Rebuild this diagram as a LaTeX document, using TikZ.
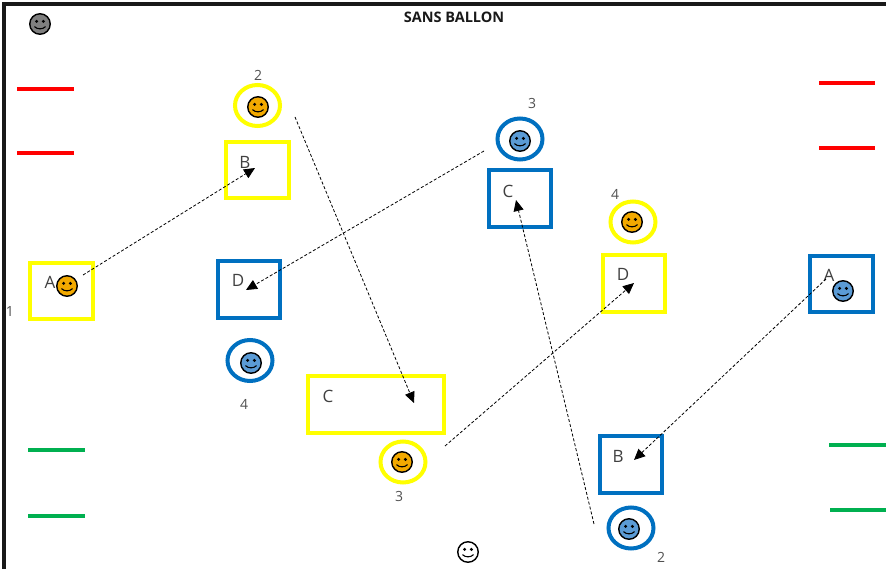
\documentclass[tikz,border=0pt]{standalone}
\usepackage{fontspec}
\setmainfont{Open Sans}
\usetikzlibrary{arrows.meta, shapes.geometric}
\definecolor{ringyellow}{HTML}{FFFF00}
\definecolor{ringblue}{HTML}{0070C0}
\definecolor{faceorange}{HTML}{F2A900}
\definecolor{faceblue}{HTML}{5B9BD5}
\definecolor{facegrey}{HTML}{7F7F7F}
\definecolor{barred}{HTML}{FF0000}
\definecolor{bargreen}{HTML}{00B050}
\definecolor{labelgrey}{HTML}{505050}

\begin{document}
\begin{tikzpicture}[
    x=1pt, y=-1pt,
    box/.style={draw, line width=4pt, minimum width=#1, minimum height=56.5pt,
        inner sep=0pt},
    box/.default=62.5pt,
    ring/.style={ellipse, draw, line width=4pt, minimum width=45pt,
        minimum height=41pt, inner sep=0pt},
    smiley/.style={circle, draw=black, line width=1.4pt, fill=#1,
        minimum size=20.5pt, inner sep=0pt,
        path picture={
            \fill[black] (path picture bounding box.center) ++(-3.4pt,2.6pt) circle (1.7pt);
            \fill[black] (path picture bounding box.center) ++(3.4pt,2.6pt) circle (1.7pt);
            \draw[black, line width=1.1pt] (path picture bounding box.center) ++(-5.5pt,-2.6pt)
                .. controls ++(2.5pt,-3pt) and ++(-2.5pt,-3pt) .. ++(11pt,0pt);
        }},
    letter/.style={font=\fontsize{17}{17}\selectfont, text=black!75, inner sep=0pt},
    number/.style={font=\fontsize{14}{14}\selectfont, text=labelgrey, inner sep=0pt},
    bar/.style={line width=3.5pt},
    link/.style={line width=0.8pt, dash pattern=on 3pt off 2pt,
        -{Triangle[length=11pt, width=10pt]}}
]
    \useasboundingbox (0,0) rectangle (886,569);

    % frame
    \coordinate (frametop) at (886,4);
    \coordinate (framecorner) at (3.5,4);
    \coordinate (framebottom) at (3.5,569);
    \draw[line width=4pt, black!90] (frametop) -- (framecorner) -- (framebottom);
    \node[font=\fontsize{14.5}{14.5}\selectfont\bfseries, text=black!90, inner sep=0pt] (title) at (454,17) {SANS BALLON};

    % bars
    \coordinate (rl1) at (17,89);    \coordinate (rl2) at (74,89);
    \coordinate (rl3) at (17,153);   \coordinate (rl4) at (74,153);
    \coordinate (rr1) at (819,83);   \coordinate (rr2) at (875,83);
    \coordinate (rr3) at (819,148);  \coordinate (rr4) at (875,148);
    \coordinate (gl1) at (28,450);   \coordinate (gl2) at (85,450);
    \coordinate (gl3) at (28,516);   \coordinate (gl4) at (85,516);
    \coordinate (gr1) at (829,445);  \coordinate (gr2) at (886,445);
    \coordinate (gr3) at (830,510);  \coordinate (gr4) at (886,510);
    \draw[bar, barred] (rl1) -- (rl2);
    \draw[bar, barred] (rl3) -- (rl4);
    \draw[bar, barred] (rr1) -- (rr2);
    \draw[bar, barred] (rr3) -- (rr4);
    \draw[bar, bargreen] (gl1) -- (gl2);
    \draw[bar, bargreen] (gl3) -- (gl4);
    \draw[bar, bargreen] (gr1) -- (gr2);
    \draw[bar, bargreen] (gr3) -- (gr4);

    % boxes
    \node[box, draw=ringyellow] (ya) at (61.5,291) {};
    \node[box, draw=ringyellow] (yb) at (257.5,170) {};
    \node[box=136pt, draw=ringyellow] (yc) at (376,404.5) {};
    \node[box, draw=ringyellow] (yd) at (634,283.5) {};
    \node[box, draw=ringblue] (ba) at (841.5,284) {};
    \node[box, draw=ringblue] (bb) at (631,464.5) {};
    \node[box, draw=ringblue] (bc) at (520,198.5) {};
    \node[box, draw=ringblue] (bd) at (249,289.5) {};

    % rings
    \node[ring, draw=ringyellow] (yb ring) at (257.5,105.5) {};
    \node[ring, draw=ringyellow] (yc ring) at (403,462) {};
    \node[ring, draw=ringyellow] (yd ring) at (633,222) {};
    \node[ring, draw=ringblue] (bb ring) at (631,528) {};
    \node[ring, draw=ringblue] (bc ring) at (520,139) {};
    \node[ring, draw=ringblue] (bd ring) at (250,360.5) {};

    % smileys
    \node[smiley=facegrey] (coach) at (40,24) {};
    \node[smiley=white] (ball) at (468,552) {};
    \node[smiley=faceorange] (ya face) at (67,286) {};
    \node[smiley=faceorange] (yb face) at (258,107) {};
    \node[smiley=faceorange] (yc face) at (402,462) {};
    \node[smiley=faceorange] (yd face) at (632,222) {};
    \node[smiley=faceblue] (ba face) at (843,291) {};
    \node[smiley=faceblue] (bb face) at (629,529) {};
    \node[smiley=faceblue] (bc face) at (520,141) {};
    \node[smiley=faceblue] (bd face) at (251,363) {};

    % letters
    \node[letter] (la) at (50,282) {A};
    \node[letter] (lb) at (245,162) {B};
    \node[letter] (lc) at (328,396) {C};
    \node[letter] (ld) at (623,274) {D};
    \node[letter] (ma) at (829,275) {A};
    \node[letter] (mb) at (618,456) {B};
    \node[letter] (mc) at (508,191) {C};
    \node[letter] (md) at (238,280) {D};

    % numbers
    \node[number] (n1) at (10,312) {1};
    \node[number] (n2) at (258,75) {2};
    \node[number] (n3) at (399,496) {3};
    \node[number] (n4) at (615,194) {4};
    \node[number] (p2) at (661,557) {2};
    \node[number] (p3) at (532,104) {3};
    \node[number] (p4) at (244,404) {4};

    % passes
    \coordinate (ya out) at (83,275);    \coordinate (yb in) at (255,168);
    \coordinate (yb out) at (295,117);   \coordinate (yc in) at (414,403);
    \coordinate (yc out) at (445,446);   \coordinate (yd in) at (634,283);
    \coordinate (ba out) at (826,279);   \coordinate (bb in) at (634,460);
    \coordinate (bb out) at (594,524);   \coordinate (bc in) at (516,200);
    \coordinate (bc out) at (484,151);   \coordinate (bd in) at (246,290);
    \draw[link] (ya out) -- (yb in);
    \draw[link] (yb out) -- (yc in);
    \draw[link] (yc out) -- (yd in);
    \draw[link] (ba out) -- (bb in);
    \draw[link] (bb out) -- (bc in);
    \draw[link] (bc out) -- (bd in);
\end{tikzpicture}
\end{document}
